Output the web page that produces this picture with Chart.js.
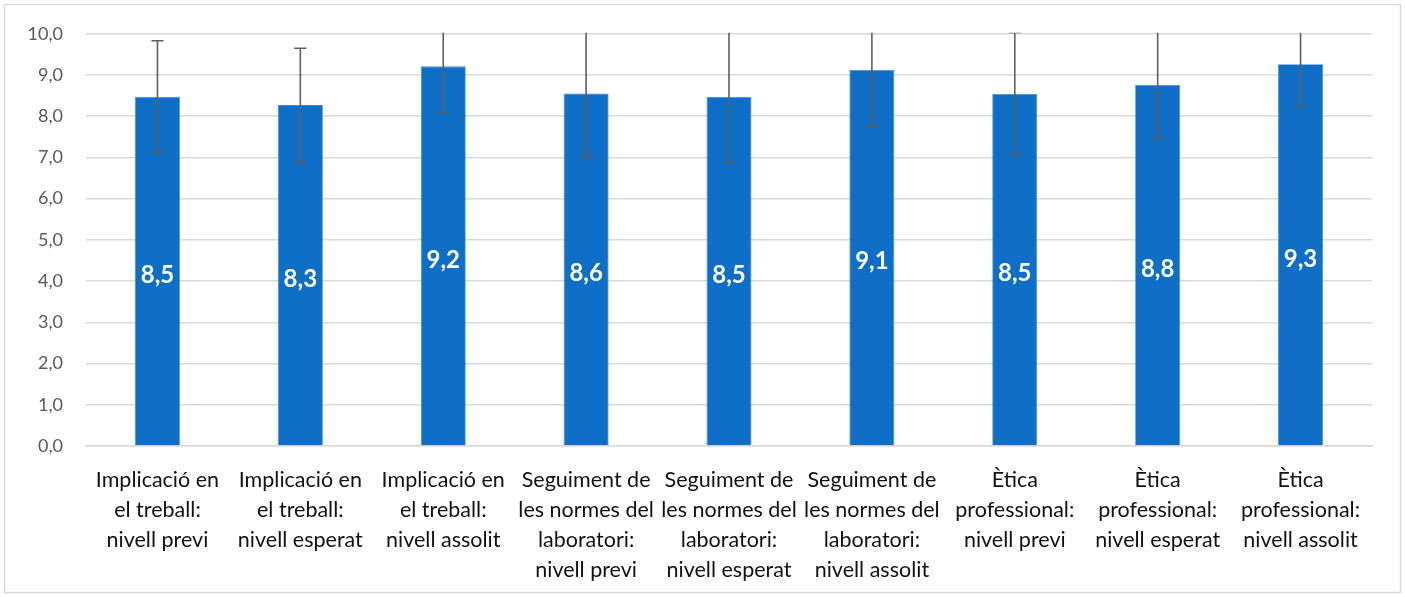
<!DOCTYPE html>
<html>
<head>
<meta charset="utf-8">
<script src="https://cdn.jsdelivr.net/npm/chart.js@4"></script>
<style>
  html, body { margin: 0; padding: 0; background: #fff; }
  #wrap { width: 1405px; height: 597px; }
</style>
</head>
<body>
<div id="wrap"><canvas id="chart" width="1405" height="597"></canvas></div>
<script>
// Categories (already wrapped the way the original shows them)
const categories = [
    ["Implicació en", "el treball:", "nivell previ"],
    ["Implicació en", "el treball:", "nivell esperat"],
    ["Implicació en", "el treball:", "nivell assolit"],
    ["Seguiment de", "les normes del", "laboratori:", "nivell previ"],
    ["Seguiment de", "les normes del", "laboratori:", "nivell esperat"],
    ["Seguiment de", "les normes del", "laboratori:", "nivell assolit"],
    ["Ètica", "professional:", "nivell previ"],
    ["Ètica", "professional:", "nivell esperat"],
    ["Ètica", "professional:", "nivell assolit"]
];

// Mean scores and their error (± standard deviation)
const means = [8.47, 8.27, 9.21, 8.55, 8.47, 9.12, 8.54, 8.76, 9.26];
const errors = [1.36, 1.38, 1.12, 1.54, 1.60, 1.36, 1.49, 1.31, 1.03];

// Y axis ticks
const yMin = 0;
const yMax = 10;
const yStep = 1;

const fmt = v => v.toFixed(1).replace(".", ",");

// Light grey frame round the whole chart
const framePlugin = {
    id: "frame",
    beforeDraw(chart) {
        const ctx = chart.ctx;
        ctx.save();
        ctx.fillStyle = "#fff";
        ctx.fillRect(0, 0, chart.width, chart.height);
        ctx.strokeStyle = "#d9d9d9";
        ctx.lineWidth = 1.5;
        ctx.strokeRect(4.5, 4.5, chart.width - 9, chart.height - 9);
        ctx.restore();
    }
};

// Error bars, clipped to the plot area like the original
const errorBarPlugin = {
    id: "errorBars",
    afterDatasetsDraw(chart) {
        const ctx = chart.ctx;
        const area = chart.chartArea;
        const y = chart.scales.y;
        const meta = chart.getDatasetMeta(0);
        ctx.save();
        ctx.beginPath();
        ctx.rect(area.left, area.top - 1, area.right - area.left, area.bottom - area.top + 1);
        ctx.clip();
        ctx.strokeStyle = "#5e5e5e";
        ctx.lineWidth = 1.6;
        meta.data.forEach((bar, i) => {
            const x = bar.x;
            const top = y.getPixelForValue(means[i] + errors[i]);
            const bottom = y.getPixelForValue(means[i] - errors[i]);
            ctx.beginPath();
            ctx.moveTo(x, top);
            ctx.lineTo(x, bottom);
            ctx.moveTo(x - 6, top);
            ctx.lineTo(x + 6, top);
            ctx.moveTo(x - 6, bottom);
            ctx.lineTo(x + 6, bottom);
            ctx.stroke();
        });
        ctx.restore();

        // value labels in the middle of each bar
        ctx.save();
        ctx.fillStyle = "#ffffff";
        ctx.font = "bold 24px Lato, 'Noto Sans', sans-serif";
        ctx.textAlign = "center";
        ctx.textBaseline = "middle";
        meta.data.forEach((bar, i) => {
            ctx.fillText(fmt(means[i]), bar.x, (bar.y + bar.base) / 2 + 4);
        });
        ctx.restore();
    }
};

new Chart(document.getElementById("chart"), {
    type: "bar",
    data: {
        labels: categories,
        datasets: [{
            data: means,
            backgroundColor: "#0f6fc6",
            borderColor: "#3f8bd4",
            borderWidth: 0.8,
            barPercentage: 0.315,
            categoryPercentage: 1
        }]
    },
    options: {
        responsive: false,
        animation: false,
        layout: { padding: { top: 33, right: 33, left: 0, bottom: 0 } },
        plugins: {
            legend: { display: false },
            tooltip: { enabled: false }
        },
        scales: {
            y: {
                min: yMin,
                max: yMax,
                afterFit(scale) { scale.width = 86; },
                border: { display: false },
                grid: { color: "#d9d9d9", lineWidth: 1.5, drawTicks: false },
                ticks: {
                    stepSize: yStep,
                    padding: 23,
                    color: "#595959",
                    font: { family: "Lato, 'Noto Sans', sans-serif", size: 18 },
                    callback: v => fmt(v)
                }
            },
            x: {
                afterFit(scale) { scale.height = 151; },
                border: { color: "#d9d9d9", width: 1.5 },
                grid: { display: false },
                ticks: {
                    maxRotation: 0,
                    autoSkip: false,
                    padding: 11,
                    color: "#111111",
                    font: { family: "Lato, 'Noto Sans', sans-serif", size: 21.5, lineHeight: 1.4 }
                }
            }
        }
    },
    plugins: [framePlugin, errorBarPlugin]
});
</script>
</body>
</html>
